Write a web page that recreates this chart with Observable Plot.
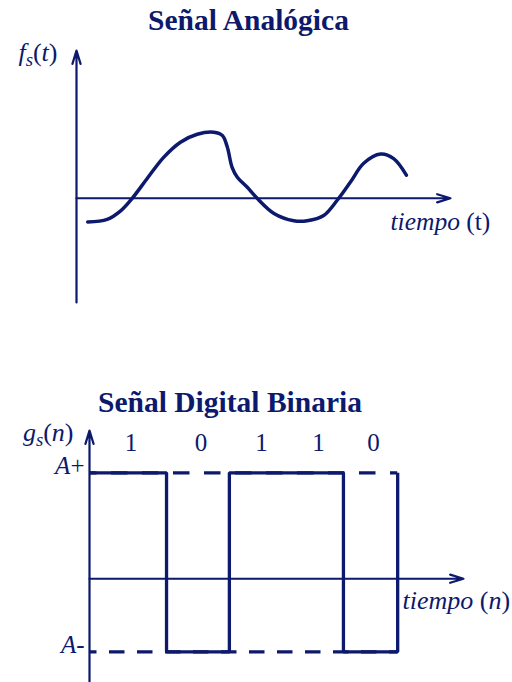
<!DOCTYPE html>
<html>
<head>
<meta charset="utf-8">
<script src="https://cdn.jsdelivr.net/npm/d3@7"></script>
<script src="https://cdn.jsdelivr.net/npm/@observablehq/plot@0.6"></script>
<style>
  html, body { margin: 0; padding: 0; background: #ffffff; }
  #chart svg { display: block; }
</style>
</head>
<body>
<div id="chart"></div>
<script>
// ---------- data ----------
// Analog signal
const analogTitle = "Señal Analógica";
const analogYLabel = "fs(t)";
const analogXLabel = "tiempo (t)";
const analogTime  = [0.30, 0.82, 1.18, 1.49, 1.89, 2.33, 2.78, 3.23, 3.67, 3.90, 4.03, 4.16, 4.30, 4.56, 4.83, 5.28, 5.81, 6.17, 6.61, 6.97, 7.33, 7.68, 8.13, 8.48, 8.82];
const analogValue = [-0.36, -0.32, -0.19, 0.00, 0.30, 0.62, 0.85, 0.97, 1.00, 0.95, 0.78, 0.47, 0.32, 0.17, 0.00, -0.23, -0.34, -0.34, -0.26, -0.03, 0.25, 0.53, 0.67, 0.60, 0.35];
const analogXExtent = [0, 10];
const analogYExtent = [-1.58, 2.24];

// Digital binary signal
const digitalTitle = "Señal Digital Binaria";
const digitalYLabel = "gs(n)";
const digitalXLabel = "tiempo (n)";
const bits = [1, 0, 1, 1, 0];
const bitEdges = [0, 2.06, 3.74, 5.30, 6.79, 8.24];
const levelLabels = ["A+", "A-"];
const levelValues = [1.0, -0.69];
const digitalXExtent = [0, 10];
const digitalYExtent = [-0.98, 1.40];

// ---------- style ----------
const INK = "#0c196c";
const FONT = "'Liberation Serif', 'Times New Roman', Times, serif";

// rich text (italics / subscripts) for labels
const rich = {
  "fs(t)": [["f", "i"], ["s", "sub"], ["(", ""], ["t", "i"], [")", ""]],
  "gs(n)": [["g", "i"], ["s", "sub"], ["(", ""], ["n", "i"], [")", ""]],
  "tiempo (t)": [["tiempo", "i"], [" (t)", ""]],
  "tiempo (n)": [["tiempo", "i"], [" (", ""], ["n", "i"], [")", ""]],
  "A+": [["A", "i"], ["+", ""]],
  "A-": [["A", "i"], ["-", ""]]
};
function enrich(svg) {
  d3.select(svg).selectAll("text").each(function () {
    const spec = rich[this.textContent];
    if (!spec) return;
    const el = d3.select(this);
    el.text(null);
    let shifted = false;
    for (const [s, st] of spec) {
      const t = el.append("tspan").text(s);
      if (st === "i" || st === "sub") t.attr("font-style", "italic");
      else t.attr("font-style", "normal");
      if (st === "sub") { t.attr("font-size", "72%").attr("dy", 5); shifted = true; }
      else if (shifted) { t.attr("dy", -5); shifted = false; }
    }
  });
  return svg;
}

const textBase = {fill: INK, fontFamily: FONT, lineAnchor: "bottom"};

// ---------- analog plot ----------
const analog = analogTime.map((t, i) => ({t, v: analogValue[i]}));

const analogPlot = Plot.plot({
  width: 512, height: 340,
  marginLeft: 76, marginRight: 62, marginTop: 50, marginBottom: 38,
  x: {domain: analogXExtent, axis: null},
  y: {domain: analogYExtent, axis: null},
  style: {fontFamily: FONT, background: "#ffffff", color: INK},
  marks: [
    Plot.arrow([{x1: analogXExtent[0], x2: analogXExtent[1]}], {
      x1: "x1", x2: "x2", y1: () => 0, y2: () => 0,
      stroke: INK, strokeWidth: 2.2, headAngle: 34, headLength: 9.5
    }),
    Plot.arrow([{y1: analogYExtent[0], y2: analogYExtent[1]}], {
      x1: () => 0, x2: () => 0, y1: "y1", y2: "y2",
      stroke: INK, strokeWidth: 2.2, headAngle: 34, headLength: 9.5
    }),
    Plot.line(analog, {
      x: "t", y: "v", curve: "catmull-rom",
      stroke: INK, strokeWidth: 3.5
    }),
    Plot.text([analogTitle], {
      ...textBase, frameAnchor: "top", dx: -15, dy: -21,
      fontSize: 29.5, fontWeight: "bold"
    }),
    Plot.text([analogYLabel], {
      ...textBase, x: () => 0, y: () => analogYExtent[1],
      textAnchor: "end", dx: -19, dy: 10, fontSize: 26
    }),
    Plot.text([analogXLabel], {
      ...textBase, x: () => analogXExtent[1], y: () => 0,
      textAnchor: "start", dx: -60, dy: 32, fontSize: 25.5
    })
  ]
});

// ---------- digital plot ----------
const lvl = (b) => (b ? levelValues[0] : levelValues[1]);
const steps = bits.flatMap((b, i) => [
  {n: bitEdges[i], v: lvl(b)},
  {n: bitEdges[i + 1], v: lvl(b)}
]);
steps.push({n: bitEdges[bits.length], v: levelValues[0]});
const lastEdge = bitEdges[bits.length];

const digitalPlot = Plot.plot({
  width: 512, height: 342,
  marginLeft: 89, marginRight: 49, marginTop: 90, marginBottom: 0,
  x: {domain: digitalXExtent, axis: null},
  y: {domain: digitalYExtent, axis: null},
  style: {fontFamily: FONT, background: "#ffffff", color: INK},
  marks: [
    Plot.ruleY([levelValues[0]], {
      x1: () => 0, x2: () => lastEdge,
      stroke: INK, strokeWidth: 3.2, strokeDasharray: "16.5,14.5", strokeDashoffset: 9
    }),
    Plot.ruleY([levelValues[1]], {
      x1: () => 0, x2: () => lastEdge,
      stroke: INK, strokeWidth: 3.2, strokeDasharray: "15.5,12.5", strokeDashoffset: 8
    }),
    Plot.line(steps, {
      x: "n", y: "v", stroke: INK, strokeWidth: 3.3,
      strokeLinejoin: "miter", strokeLinecap: "butt"
    }),
    Plot.arrow([{x1: digitalXExtent[0], x2: digitalXExtent[1]}], {
      x1: "x1", x2: "x2", y1: () => 0, y2: () => 0,
      stroke: INK, strokeWidth: 2.2, headAngle: 34, headLength: 9.5
    }),
    Plot.arrow([{y1: digitalYExtent[0], y2: digitalYExtent[1]}], {
      x1: () => 0, x2: () => 0, y1: "y1", y2: "y2",
      stroke: INK, strokeWidth: 2.2, headAngle: 34, headLength: 9.5
    }),
    Plot.text([digitalTitle], {
      ...textBase, frameAnchor: "top", dx: -46.5, dy: -19,
      fontSize: 29.5, fontWeight: "bold"
    }),
    Plot.text(bits, {
      ...textBase, x: (d, i) => (bitEdges[i] + bitEdges[i + 1]) / 2,
      y: () => levelValues[0], text: (d) => String(d),
      dx: 3, dy: -22, fontSize: 25
    }),
    Plot.text(levelLabels, {
      ...textBase, x: () => 0, y: (d, i) => levelValues[i],
      textAnchor: "end", dx: -5, dy: 1, fontSize: 25
    }),
    Plot.text([digitalYLabel], {
      ...textBase, x: () => 0, y: () => digitalYExtent[1],
      textAnchor: "end", dx: -16, dy: 10, fontSize: 26
    }),
    Plot.text([digitalXLabel], {
      ...textBase, x: () => digitalXExtent[1], y: () => 0,
      textAnchor: "start", dx: -61, dy: 30, fontSize: 26
    })
  ]
});

const chart = document.getElementById("chart");
chart.appendChild(enrich(analogPlot));
chart.appendChild(enrich(digitalPlot));
</script>
</body>
</html>
